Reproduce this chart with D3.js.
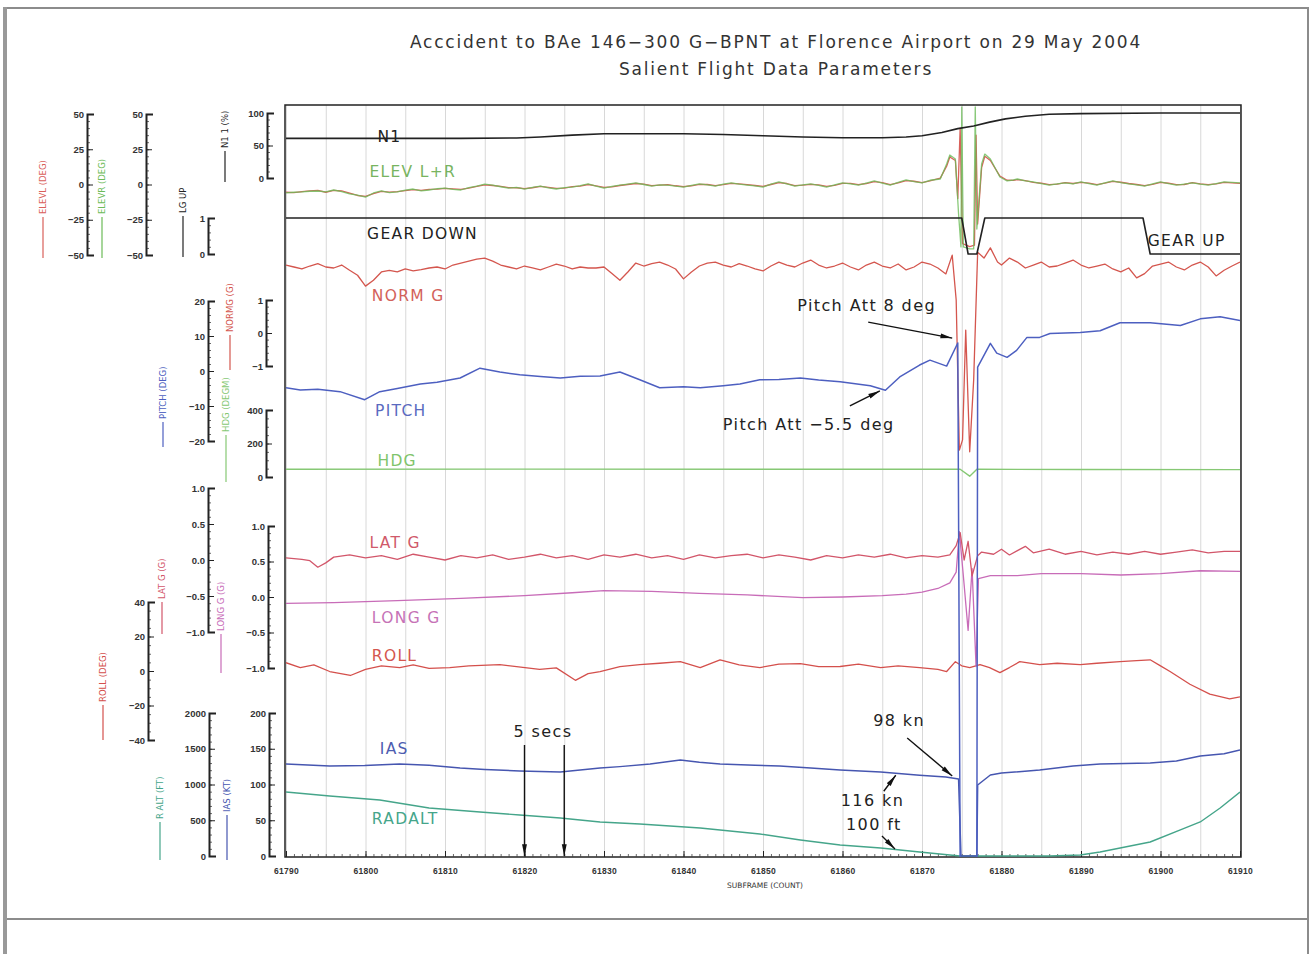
<!DOCTYPE html>
<html>
<head>
<meta charset="utf-8">
<script src="https://cdn.jsdelivr.net/npm/d3@7"></script>
<style>
  body { margin: 0; background: #fff; }
  text { font-family: "DejaVu Sans", sans-serif; }
  .ax .tick text { font-family: "Liberation Sans", sans-serif; font-size: 9.5px; font-weight: bold; fill: #333; }
  .ax .domain { stroke: #222; stroke-width: 2; }
  .ax .tick line { stroke: #222; stroke-width: 1; }
  .minor .tick line { stroke: #444; stroke-width: 0.8; }
  .grid .tick line { stroke: #d8d8d8; stroke-width: 1; }
  .grid .domain { display: none; }
</style>
</head>
<body>
<svg id="chart" width="1314" height="954"></svg>
<script>
// ---- data (subframe, value) ----
var subframeTicks = [61790, 61800, 61810, 61820, 61830, 61840, 61850, 61860, 61870, 61880, 61890, 61900, 61910];

var n1 = [[61790,61],[61800,61],[61812,61],[61819,61.5],[61822,63],[61826,66],[61830,68],[61840,68],[61845,67],
  [61850,65],[61855,63],[61860,62],[61865,62],[61868,63],[61870,65],[61872.5,70],[61874.5,76],[61876.5,80],
  [61878.5,86],[61880.5,91],[61883,95],[61886,98],[61890,99],[61900,100],[61910,100]];

var elevL = [[61790,-5.5],[61791,-5.8],[61792,-5.0],[61793,-4.5],[61794,-4.2],[61795,-5.5],[61796,-4.2],[61797,-4.6],
  [61798,-6.2],[61799,-7.8],[61800,-8.4],[61801,-6.4],[61802,-4.9],[61803,-5.4],[61804,-5.0],[61805,-4.3],[61806,-3.6],
  [61807,-4.2],[61808,-3.5],[61809,-3.3],[61810,-2.8],[61811,-3.1],[61812,-3.5],[61813,-2.5],[61814,-1.4],[61815,-0.2],
  [61816,-0.7],[61817,-1.3],[61818,-2.2],[61819,-2.3],[61820,-2.9],[61821,-2.3],[61822,-1.4],[61823,-2.1],[61824,-2.8],
  [61825,-2.5],[61826,-1.5],[61827,-1.1],[61828,0.0],[61829,-0.9],[61830,-2.1],[61831,-1.7],[61832,-0.7],[61833,0.0],
  [61834,0.7],[61835,0.3],[61836,-0.8],[61837,-0.5],[61838,-0.1],[61839,-0.9],[61840,-1.5],[61841,-0.9],[61842,0.1],
  [61843,0.0],[61844,-0.8],[61845,-0.1],[61846,0.8],[61847,0.5],[61848,-0.1],[61849,-0.7],[61850,-1.4],[61851,0.0],
  [61852,1.4],[61853,0.7],[61854,-0.8],[61855,-0.5],[61856,0.1],[61857,-0.3],[61858,-1.4],[61859,-0.6],[61860,0.8],
  [61861,0.8],[61862,-0.1],[61863,0.7],[61864,2.1],[61865,1.3],[61866,-0.1],[61867,1.2],[61868,2.8],[61869,2.3],
  [61870,1.4],[61871,2.6],[61872.3,4.5],[61873.1,13],[61873.5,19.5],[61874.2,17],[61874.5,-10],[61874.8,40],
  [61875.1,-42],[61876,-44],[61876.6,-43],[61876.8,35],[61877,-28],[61877.5,12],[61877.9,20],[61878.6,17],[61879.8,6],
  [61880.7,3],[61881.5,2.9],[61882,3.5],[61883,2.8],[61884,1.5],[61885,0.9],[61886,-0.1],[61887,0.2],[61888,1.4],
  [61889,0.7],[61890,1.5],[61891,1.0],[61892,-0.1],[61893,0.9],[61894,2.2],[61895,1.6],[61896,0.7],[61897,0.0],
  [61898,-0.8],[61899,0.1],[61900,1.5],[61901,0.9],[61902,-0.1],[61903,0.0],[61904,1.4],[61905,0.5],[61906,-0.1],
  [61907,0.4],[61908,1.5],[61909,1.2],[61910,0.8]];

var elevR = [[61790,-6],[61791,-5.5],[61792,-5.3],[61793,-4.8],[61794,-4.6],[61795,-5.2],[61796,-3.9],[61797,-5],
  [61798,-6.7],[61799,-7.5],[61800,-8.9],[61801,-6],[61802,-4.6],[61803,-5.8],[61804,-5.3],[61805,-4],[61806,-3.2],
  [61807,-4.5],[61808,-3.9],[61809,-3],[61810,-2.5],[61811,-3.4],[61812,-3.9],[61813,-2.2],[61814,-1.1],[61815,0.2],
  [61816,-0.4],[61817,-1.6],[61818,-2.5],[61819,-2],[61820,-3.2],[61821,-2],[61822,-1.1],[61823,-2.4],[61824,-3.2],
  [61825,-2.2],[61826,-1.8],[61827,-0.8],[61828,0.4],[61829,-1.2],[61830,-2.5],[61831,-1.4],[61832,-0.4],[61833,0.3],
  [61834,1.1],[61835,0],[61836,-1.1],[61837,-0.2],[61838,-0.4],[61839,-1.2],[61840,-1.8],[61841,-0.6],[61842,0.4],
  [61843,-0.3],[61844,-1.1],[61845,0.2],[61846,1.1],[61847,0.2],[61848,-0.4],[61849,-1],[61850,-1.8],[61851,0.3],
  [61852,1.8],[61853,0.4],[61854,-1.1],[61855,-0.2],[61856,0.4],[61857,-0.6],[61858,-1.8],[61859,-0.3],[61860,1.1],
  [61861,0.5],[61862,-0.4],[61863,1.0],[61864,2.5],[61865,1],[61866,-0.4],[61867,1.5],[61868,3.2],[61869,2],[61870,1.1],
  [61871,3],[61872.3,3.9],[61873.1,14.5],[61873.5,20.9],[61874.2,18.1],[61874.6,-20.9],[61874.9,-44.3],[61875,55],
  [61875.2,-44.3],[61876,-45.7],[61876.5,-45.7],[61876.7,55],[61876.9,-31.6],[61877.5,14.5],[61877.9,21.6],[61878.6,18.1],
  [61879.8,5.3],[61880.7,2.5],[61881.5,3.2],[61882,3.9],[61883,2.5],[61884,1.8],[61885,0.6],[61886,-0.4],[61887,0.5],
  [61888,1.1],[61889,0.4],[61890,1.8],[61891,0.7],[61892,-0.4],[61893,1.2],[61894,2.5],[61895,1.3],[61896,0.4],
  [61897,-0.3],[61898,-1.1],[61899,0.4],[61900,1.8],[61901,0.6],[61902,-0.4],[61903,0.3],[61904,1.1],[61905,0.2],
  [61906,-0.4],[61907,0.7],[61908,1.8],[61909,1.5],[61910,1.1]];

var lgUp = [[61790,1],[61875,1],[61875.8,0],[61876.9,0],[61877.9,1],[61897.8,1],[61898.7,0],[61910,0]];

var normG = [[61790,2.06],[61791,2.0],[61792,1.94],[61793,2.03],[61794,2.1],[61795,2.0],[61796,1.97],[61797,2.06],
  [61798,1.9],[61799,1.75],[61800,1.42],[61801,1.6],[61802,1.85],[61803,1.9],[61804,1.85],[61805,1.94],[61806,1.88],
  [61807,1.92],[61808,1.97],[61809,2.0],[61810,1.94],[61811,2.06],[61812,2.12],[61813,2.18],[61814,2.24],[61815,2.27],
  [61816,2.18],[61817,2.06],[61818,2.0],[61819,1.94],[61820,2.03],[61821,1.97],[61822,1.91],[61823,2.0],[61824,2.09],
  [61825,2.03],[61826,1.94],[61827,2.0],[61828,1.97],[61829,1.97],[61830,2.0],[61831,1.8],[61832,1.6],[61833,1.85],
  [61834,2.12],[61835,2.03],[61836,2.1],[61837,2.15],[61838,2.06],[61839,1.94],[61840,1.64],[61841,1.85],[61842,2.03],
  [61843,2.12],[61844,2.15],[61845,2.06],[61846,2.0],[61847,2.1],[61848,2.03],[61849,1.94],[61850,1.88],[61851,2.03],
  [61852,2.15],[61853,2.06],[61854,2.0],[61855,2.12],[61856,2.21],[61857,2.06],[61858,1.97],[61859,2.03],[61860,2.12],
  [61861,2.0],[61862,1.91],[61863,2.06],[61864,2.15],[61865,2.03],[61866,1.97],[61867,2.09],[61868,1.91],[61869,2.0],
  [61870,2.15],[61871,2.09],[61872,1.97],[61873,1.79],[61873.8,2.36],[61874.3,1.0],[61874.7,-3.55],[61875.1,-3.24],
  [61875.5,0.09],[61876,-3.6],[61876.5,-1.42],[61877,2.45],[61877.8,2.27],[61878.6,2.58],[61879.5,2.15],[61880,2.06],
  [61881,2.27],[61882,2.15],[61883,1.97],[61884,2.06],[61885,2.15],[61886,2.0],[61887,2.03],[61888,2.12],[61889,2.21],
  [61890,2.06],[61891,1.97],[61892,2.03],[61893,2.09],[61894,1.94],[61895,1.85],[61896,1.97],[61897,1.67],[61898,1.8],
  [61899,2.03],[61900,2.09],[61901,2.15],[61902,2.0],[61903,1.91],[61904,2.06],[61905,2.15],[61906,2.0],[61907,1.73],
  [61908,1.9],[61909,2.03],[61910,2.15]];

var pitch = [[61790,-4.8],[61791.8,-5.4],[61794,-5.2],[61796.8,-5.9],[61799.9,-8.2],[61801.8,-5.9],[61804,-5.0],
  [61806.9,-3.7],[61809,-3.2],[61811.9,-2.0],[61814.4,0.8],[61816.9,-0.3],[61819.4,-1.1],[61822,-1.6],[61824.5,-2.0],
  [61827,-1.5],[61829.5,-1.4],[61832,-0.3],[61834.5,-2.5],[61837,-4.8],[61840,-4.5],[61842.1,-4.8],[61845,-4.2],
  [61847.1,-3.7],[61849.6,-2.5],[61852,-2.4],[61854.7,-2.0],[61857,-2.6],[61859.7,-3.1],[61863.5,-4.2],[61865.4,-5.5],
  [61867.2,-1.7],[61869.7,1.7],[61871,3.1],[61873.1,1.4],[61874.5,8],[61874.8,-140],[61876.9,-140],[61877,1.1],
  [61878.6,7.9],[61879.4,5.1],[61880.7,3.9],[61881.9,5.9],[61883.2,9.6],[61884.8,9.6],[61886.1,10.7],[61889.9,11.0],
  [61892.4,11.5],[61894.9,13.8],[61898.7,13.8],[61902.5,13],[61905,14.9],[61907.5,15.5],[61910,14.4]];

var hdg = [[61790,46],[61820,47],[61850,46],[61874.8,46],[61876,5],[61876.9,46],[61890,45],[61910,44]];

var latG = [[61790,0.03],[61792,0.01],[61793,-0.01],[61794,-0.10],[61795,-0.04],[61796,0.04],[61798,0.07],[61800,0.03],
  [61802,0.06],[61804,0.01],[61806,0.08],[61808,0.04],[61810,0.0],[61812,0.06],[61814,0.03],[61816,0.07],[61818,0.01],
  [61820,0.04],[61822,0.08],[61824,0.03],[61826,0.06],[61828,0.01],[61830,0.07],[61832,0.04],[61834,0.08],[61836,0.03],
  [61838,0.06],[61840,0.01],[61842,0.07],[61844,0.03],[61846,0.06],[61848,0.08],[61850,0.03],[61852,0.07],[61854,0.04],
  [61856,0.0],[61858,0.06],[61860,0.03],[61862,0.07],[61864,0.04],[61866,0.08],[61868,0.03],[61870,0.06],[61872,0.04],
  [61873.5,0.07],[61874.3,0.2],[61874.8,0.38],[61875.3,0.0],[61875.8,0.26],[61876.3,-0.22],[61877,0.06],[61877.5,0.11],
  [61879,0.08],[61880,0.15],[61881,0.07],[61882,0.13],[61883,0.19],[61884,0.10],[61886,0.15],[61888,0.08],[61890,0.12],
  [61892,0.07],[61894,0.11],[61896,0.08],[61898,0.12],[61900,0.08],[61902,0.11],[61904,0.14],[61906,0.10],[61908,0.12],
  [61910,0.12]];

var longG = [[61790,-0.09],[61796,-0.08],[61804,-0.05],[61812,-0.02],[61820,0.02],[61826,0.06],[61830,0.09],[61836,0.08],
  [61842,0.05],[61848,0.03],[61855,-0.01],[61860,0.0],[61865,0.02],[61868,0.04],[61870,0.07],[61872,0.12],[61873.5,0.2],
  [61874.3,0.35],[61874.7,0.92],[61875.2,0.3],[61875.8,-0.47],[61876.3,0.4],[61876.8,-0.98],[61877.1,0.26],[61878.6,0.3],
  [61882,0.3],[61885,0.33],[61890,0.33],[61895,0.31],[61900,0.33],[61905,0.37],[61910,0.36]];

var roll = [[61790,4.8],[61791.8,2.0],[61793.5,3.5],[61795.5,-0.3],[61798.1,-2.6],[61800,1.0],[61802,3.0],[61804.3,2.0],
  [61806,3.5],[61808,1.5],[61810.6,2.0],[61813,3.0],[61816.9,3.7],[61819,2.5],[61821.9,0.9],[61824,1.8],[61826.4,-5.4],
  [61828,-1.5],[61829.5,-0.3],[61832,2.5],[61834.5,3.7],[61837,4.5],[61839.6,5.4],[61842.1,2.0],[61844.6,6.5],[61847,3.5],
  [61849.6,2.0],[61852,4.0],[61854.7,4.3],[61857,2.5],[61859.7,2.6],[61862,4.0],[61864.8,2.0],[61867,3.0],[61869.7,2.0],
  [61872,1.0],[61873.1,-0.3],[61874.2,5.4],[61875,3.0],[61876,2.0],[61877.3,3.7],[61878.5,2.0],[61879.8,-0.9],[61881,2.0],
  [61882.3,5.4],[61884.8,3.7],[61887,4.5],[61889.9,3.7],[61892,4.5],[61894.9,5.4],[61897,6.0],[61898.7,6.5],[61900,3.0],
  [61901.2,-0.3],[61903.7,-7.7],[61906.2,-13.4],[61908.7,-16.2],[61910,-15]];

var ias = [[61790,128.7],[61795.5,125.9],[61799.9,126.5],[61804.3,128.7],[61808,127],[61811.9,123],[61815,121],
  [61819.4,118.9],[61824.5,117.5],[61829.5,123],[61832,125],[61835.8,128.7],[61839.6,134.3],[61842,131],[61844.6,128.7],
  [61849,127],[61852.1,125.9],[61856,123],[61859.7,120.3],[61864.8,117.5],[61869.7,113],[61873,110.5],[61874.6,107.7],
  [61874.9,0],[61876.9,0],[61877,99.3],[61878.6,113.3],[61880,116],[61884.8,120.3],[61889,126],[61892.4,128.7],
  [61898.7,130],[61902,133],[61905,139.9],[61908,143],[61910,148.3]];

var radalt = [[61790,895],[61795.5,839],[61801.8,783],[61808,671],[61814.4,615],[61819.4,573],[61824.5,531],[61829.5,476],
  [61834.5,448],[61842.1,392],[61849.6,308],[61854.7,224],[61859.7,154],[61864.8,112],[61869.7,56],[61873.5,14],
  [61874.8,0],[61886,0],[61889.9,14],[61892.4,56],[61898.7,196],[61902.5,364],[61905,476],[61907.5,671],[61910,895]];

// axis tick values
var elevTicks = [-50, -25, 0, 25, 50];
var lgTicks = [0, 1];
var n1Ticks = [0, 50, 100];
var pitchTicks = [-20, -10, 0, 10, 20];
var normGTicks = [-1, 0, 1];
var hdgTicks = [0, 200, 400];
var gTicks = [-1, -0.5, 0, 0.5, 1];
var rollTicks = [-40, -20, 0, 20, 40];
var raltTicks = [0, 500, 1000, 1500, 2000];
var iasTicks = [0, 50, 100, 150, 200];

var titleLines = ["Acccident to BAe 146\u2212300 G\u2212BPNT at Florence Airport on 29 May 2004", "Salient Flight Data Parameters"];

// ---- drawing ----
var svg = d3.select("#chart");
var plotTop = 105, plotBottom = 857;

var x = d3.scaleLinear().domain([61790, 61910]).range([286, 1240]);
var y = {
  elev: d3.scaleLinear().domain([-50, 50]).range([255, 114]),
  lg: d3.scaleLinear().domain([0, 1]).range([254, 218]),
  n1: d3.scaleLinear().domain([0, 100]).range([178, 113]),
  pitch: d3.scaleLinear().domain([-20, 20]).range([441, 301]),
  normG: d3.scaleLinear().domain([-1, 1]).range([366, 300]),
  hdg: d3.scaleLinear().domain([0, 400]).range([477, 410]),
  latG: d3.scaleLinear().domain([-1, 1]).range([632, 488]),
  longG: d3.scaleLinear().domain([-1, 1]).range([668, 526]),
  roll: d3.scaleLinear().domain([-40, 40]).range([740, 602]),
  ralt: d3.scaleLinear().domain([0, 2000]).range([856, 713]),
  ias: d3.scaleLinear().domain([0, 200]).range([856, 713])
};

var C = {
  black: "#222", elevL: "#d9605a", elevR: "#6cbb58", normG: "#d4564e", pitch: "#4d5fc0", hdg: "#86c874",
  latG: "#d2566a", longG: "#c86cb8", roll: "#d4504c", ias: "#4656b0", ralt: "#45a58a"
};

// page frame
svg.append("rect").attr("x", 6).attr("y", 8).attr("width", 1302).attr("height", 911)
  .attr("fill", "none").attr("stroke", "#8c8c8c").attr("stroke-width", 2);
svg.append("line").attr("x1", 5).attr("x2", 5).attr("y1", 7).attr("y2", 954).attr("stroke", "#999").attr("stroke-width", 4);
svg.append("line").attr("x1", 1308).attr("x2", 1308).attr("y1", 919).attr("y2", 954).attr("stroke", "#8c8c8c").attr("stroke-width", 2);

// title
titleLines.forEach(function(t, i) {
  svg.append("text").attr("x", 776).attr("y", 48 + i * 27).attr("text-anchor", "middle")
    .attr("font-size", 17).attr("letter-spacing", 1.8).attr("fill", "#333").text(t);
});

// grid
svg.append("g").attr("class", "grid").attr("transform", "translate(0," + plotBottom + ")")
  .call(d3.axisBottom(x).ticks(24).tickSize(-(plotBottom - plotTop)).tickFormat(""));

// plot frame
svg.append("rect").attr("x", x(61790) - 1).attr("y", plotTop).attr("width", x(61910) - x(61790) + 2)
  .attr("height", plotBottom - plotTop).attr("fill", "none").attr("stroke", "#222").attr("stroke-width", 1.5);

// bottom axis
var bx = svg.append("g").attr("class", "ax minor").attr("transform", "translate(0," + plotBottom + ")");
bx.call(d3.axisBottom(x).ticks(120).tickSize(-3).tickFormat(""));
bx.select(".domain").remove();
var bx2 = svg.append("g").attr("class", "ax").attr("transform", "translate(0," + plotBottom + ")");
bx2.call(d3.axisBottom(x).tickValues(subframeTicks).tickSize(-6).tickPadding(11).tickFormat(d3.format("d")));
bx2.select(".domain").remove();
bx2.selectAll(".tick text").attr("font-size", 8.5).style("font-size", "8.5px").style("letter-spacing", "0.3px");
svg.append("text").attr("x", 765).attr("y", 888).attr("text-anchor", "middle").attr("font-size", 7.5)
  .attr("font-family", "Liberation Sans").attr("fill", "#333").text("SUBFRAME (COUNT)");

// left axes
var fmtG = function(d) { return d3.format(".1f")(d); };
var axes = [
  { s: y.elev, x: 87, t: elevTicks, m: 20, label: "ELEVL (DEG)", lx: 43, ly: 214, le: 258, c: C.elevL },
  { s: y.elev, x: 146, t: elevTicks, m: 20, label: "ELEVR (DEG)", lx: 102, ly: 214, le: 258, c: C.elevR },
  { s: y.lg, x: 208, t: lgTicks, m: 5, label: "LG UP", lx: 183, ly: 213, le: 257, c: C.black },
  { s: y.n1, x: 267, t: n1Ticks, m: 10, label: "N1 1 (%)", lx: 225, ly: 148, le: 182, c: C.black },
  { s: y.pitch, x: 208, t: pitchTicks, m: 20, label: "PITCH (DEG)", lx: 163, ly: 419, le: 447, c: C.pitch },
  { s: y.normG, x: 266, t: normGTicks, m: 10, label: "NORMG (G)", lx: 230, ly: 332, le: 370, c: C.normG },
  { s: y.hdg, x: 266, t: hdgTicks, m: 10, label: "HDG (DEGM)", lx: 226, ly: 432, le: 482, c: C.hdg },
  { s: y.latG, x: 208, t: gTicks, m: 20, label: "LAT G (G)", lx: 162, ly: 599, le: 634, c: C.latG, f: fmtG },
  { s: y.longG, x: 268, t: gTicks, m: 20, label: "LONG G (G)", lx: 221, ly: 631, le: 673, c: C.longG, f: fmtG },
  { s: y.roll, x: 148, t: rollTicks, m: 20, label: "ROLL (DEG)", lx: 103, ly: 702, le: 740, c: C.roll },
  { s: y.ralt, x: 209, t: raltTicks, m: 20, label: "R ALT (FT)", lx: 160, ly: 819, le: 860, c: C.ralt },
  { s: y.ias, x: 269, t: iasTicks, m: 20, label: "IAS (KT)", lx: 227, ly: 812, le: 860, c: C.ias }
];

axes.forEach(function(a) {
  var g = svg.append("g").attr("transform", "translate(" + a.x + ",0)");
  var mg = g.append("g").attr("class", "ax minor")
    .call(d3.axisLeft(a.s).ticks(a.m).tickSize(-3).tickFormat(""));
  mg.select(".domain").remove();
  g.append("g").attr("class", "ax")
    .call(d3.axisLeft(a.s).tickValues(a.t).tickSizeInner(-6).tickSizeOuter(-7).tickPadding(3)
      .tickFormat(a.f || d3.format("d")));
  var lab = svg.append("g").attr("transform", "translate(" + a.lx + "," + a.ly + ") rotate(-90)");
  lab.append("text").attr("dy", "0.35em").attr("font-size", 8.5).attr("font-family", "Liberation Sans")
    .attr("fill", a.c).text(a.label);
  lab.append("line").attr("x1", -3).attr("x2", -(a.le - a.ly)).attr("stroke", a.c).attr("stroke-width", 1.2);
});

// traces
svg.append("clipPath").attr("id", "plotclip").append("rect")
  .attr("x", x(61790)).attr("y", plotTop + 1).attr("width", x(61910) - x(61790)).attr("height", plotBottom - plotTop - 1);
var plot = svg.append("g").attr("clip-path", "url(#plotclip)");

var traces = [
  { d: hdg, s: y.hdg, c: C.hdg, w: 1.4 },
  { d: radalt, s: y.ralt, c: C.ralt, w: 1.4 },
  { d: roll, s: y.roll, c: C.roll, w: 1.3 },
  { d: longG, s: y.longG, c: C.longG, w: 1.3 },
  { d: latG, s: y.latG, c: C.latG, w: 1.3 },
  { d: normG, s: y.normG, c: C.normG, w: 1.3 },
  { d: elevL, s: y.elev, c: C.elevL, w: 1.3 },
  { d: elevR, s: y.elev, c: C.elevR, w: 1.3, o: 0.8 },
  { d: n1, s: y.n1, c: C.black, w: 1.6 },
  { d: lgUp, s: y.lg, c: C.black, w: 1.6 },
  { d: ias, s: y.ias, c: C.ias, w: 1.5 },
  { d: pitch, s: y.pitch, c: C.pitch, w: 1.5 }
];
traces.forEach(function(t) {
  plot.append("path").datum(t.d)
    .attr("fill", "none").attr("stroke", t.c).attr("stroke-width", t.w).attr("stroke-opacity", t.o || 1)
    .attr("stroke-linejoin", "round")
    .attr("d", d3.line().x(function(d) { return x(d[0]); }).y(function(d) { return t.s(d[1]); }));
});

// trace names inside the plot
var names = [
  { t: "N1", s: 61801.5, v: 56, sc: y.n1, c: "#222" },
  { t: "ELEV L+R", s: 61800.5, v: 5, sc: y.elev, c: "#78b460" },
  { t: "GEAR DOWN", s: 61800.2, v: 0.42, sc: y.lg, c: "#222" },
  { t: "GEAR UP", s: 61898.4, v: 0.22, sc: y.lg, c: "#222" },
  { t: "NORM G", s: 61800.8, v: 0.96, sc: y.normG, c: "#d3625a" },
  { t: "PITCH", s: 61801.2, v: -12.8, sc: y.pitch, c: "#5a6ac0" },
  { t: "HDG", s: 61801.5, v: 64, sc: y.hdg, c: "#7fc46b" },
  { t: "LAT G", s: 61800.5, v: 0.17, sc: y.latG, c: "#d05a6a" },
  { t: "LONG G", s: 61800.8, v: -0.37, sc: y.longG, c: "#c672b6" },
  { t: "ROLL", s: 61800.8, v: 6, sc: y.roll, c: "#d4564e" },
  { t: "IAS", s: 61801.8, v: 142, sc: y.ias, c: "#4d5cb0" },
  { t: "RADALT", s: 61800.8, v: 450, sc: y.ralt, c: "#45a58a" }
];
names.forEach(function(n) {
  svg.append("text").attr("x", x(n.s)).attr("y", n.sc(n.v)).attr("font-size", 15.5)
    .attr("letter-spacing", 1.3).attr("fill", n.c).text(n.t);
});

// annotations
svg.append("defs").append("marker").attr("id", "ah").attr("viewBox", "0 0 12 10")
  .attr("refX", 12).attr("refY", 5).attr("markerWidth", 9).attr("markerHeight", 7).attr("orient", "auto")
  .append("path").attr("d", "M0,2.5L12,5L0,7.5Z").attr("fill", "#111");

var notes = [
  { t: "Pitch Att 8 deg", s: 61873.8, v: 9.4, sc: y.pitch, ax: -84, ay: -16, tx: -155, ty: -27 },
  { t: "Pitch Att \u22125.5 deg", s: 61864.7, v: -5.7, sc: y.pitch, ax: -30, ay: 15, tx: -157, ty: 39 },
  { t: "5 secs", s: 61820, v: 0, sc: y.ias, ax: 0, ay: -111, tx: -11, ty: -119 },
  { t: "", s: 61825, v: 0, sc: y.ias, ax: 0, ay: -111 },
  { t: "98 kn", s: 61873.8, v: 112, sc: y.ias, ax: -45, ay: -38, tx: -79, ty: -50 },
  { t: "116 kn", s: 61866.7, v: 113, sc: y.ias, ax: -12, ay: 16, tx: -55, ty: 31 },
  { t: "100 ft", s: 61866.6, v: 98, sc: y.ralt, ax: -13, ay: -13, tx: -49, ty: -19 }
];
notes.forEach(function(n) {
  var px = x(n.s), py = n.sc(n.v);
  svg.append("line").attr("x1", px + n.ax).attr("y1", py + n.ay).attr("x2", px).attr("y2", py)
    .attr("stroke", "#111").attr("stroke-width", 1.4).attr("marker-end", "url(#ah)");
  if (n.t) {
    svg.append("text").attr("x", px + n.tx).attr("y", py + n.ty).attr("font-size", 16)
      .attr("letter-spacing", 1.4).attr("fill", "#222").text(n.t);
  }
});
</script>
</body>
</html>
